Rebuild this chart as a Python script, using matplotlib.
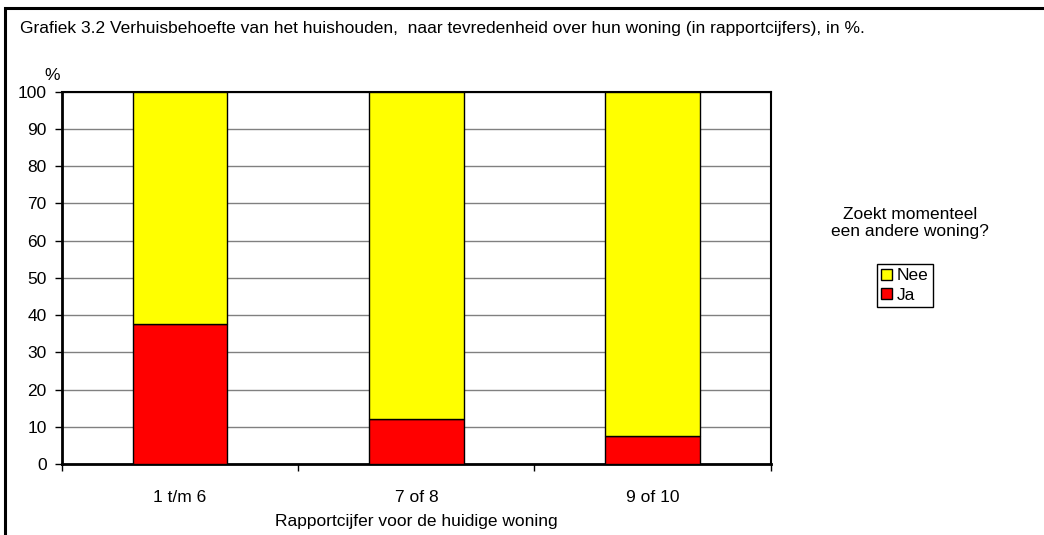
import numpy as np
import matplotlib.pyplot as plt
import matplotlib.ticker as ticker
from matplotlib.patches import Rectangle

plt.rcParams['font.family'] = ['Liberation Sans', 'DejaVu Sans']

categories = ['1 t/m 6', '7 of 8', '9 of 10']
ja = [37.5, 12.0, 7.6]
nee = [100 - v for v in ja]

title = 'Grafiek 3.2 Verhuisbehoefte van het huishouden,  naar tevredenheid over hun woning (in rapportcijfers), in %.'
xlabel = 'Rapportcijfer voor de huidige woning'
legend_title = 'Zoekt momenteel\neen andere woning?'

fontsize = 12.5
fig = plt.figure(figsize=(10.44, 5.35), dpi=100)
ax = fig.add_axes([62/1044, 1 - 464/535, (770.7 - 62)/1044, (464 - 91.7)/535])

# outer frame (only top/left are inside the image)
fig.patches.append(Rectangle((5/1044, -0.1), 1.2, 1 - 8/535 + 0.1, transform=fig.transFigure,
                             fill=False, edgecolor='black', linewidth=2.2))

x = np.arange(len(categories))
b_ja = ax.bar(x, ja, width=0.4, color='#ff0000', edgecolor='black', linewidth=1, zorder=3)
b_nee = ax.bar(x, nee, bottom=ja, width=0.4, color='#ffff00', edgecolor='black', linewidth=1, zorder=3)

ax.set_xlim(-0.5, 2.5)
ax.set_ylim(0, 100)
ax.yaxis.set_major_locator(ticker.MultipleLocator(10))
ax.grid(axis='y', color='#808080', linewidth=1, zorder=0)

# category ticks sit between the bars
ax.set_xticks([-0.5, 0.5, 1.5, 2.5])
ax.set_xticklabels([])
ax.set_xticks(x, minor=True)
ax.set_xticklabels(categories, minor=True, fontsize=fontsize)
ax.tick_params(axis='x', which='minor', length=0, pad=19)
ax.tick_params(axis='x', which='major', length=5, width=1, direction='out')
ax.tick_params(axis='y', length=5, width=1, labelsize=fontsize, pad=6)

for side in ['left', 'bottom']:
    ax.spines[side].set_linewidth(2)
for side in ['top', 'right']:
    ax.spines[side].set_linewidth(1.5)

ax.set_xlabel(xlabel, fontsize=fontsize, labelpad=6)

fig.text(20/1044, 1 - 29/535, title, fontsize=fontsize, va='center', ha='left')
fig.text(52/1044, 1 - 75/535, '%', fontsize=fontsize, va='center', ha='center')
fig.text(910/1044, 1 - 223/535, legend_title, fontsize=fontsize, va='center', ha='center',
         multialignment='center', linespacing=1.15)

leg = fig.legend([b_nee, b_ja], ['Nee', 'Ja'], loc='upper left',
                 bbox_to_anchor=(877/1044, 1 - 264/535), fontsize=fontsize,
                 frameon=True, fancybox=False, edgecolor='black', framealpha=1,
                 handlelength=0.6, handleheight=0.6, handletextpad=0.3,
                 borderpad=0.25, labelspacing=0.25, borderaxespad=0)
leg.get_frame().set_linewidth(1)

fig.savefig('out.png', dpi=100)
